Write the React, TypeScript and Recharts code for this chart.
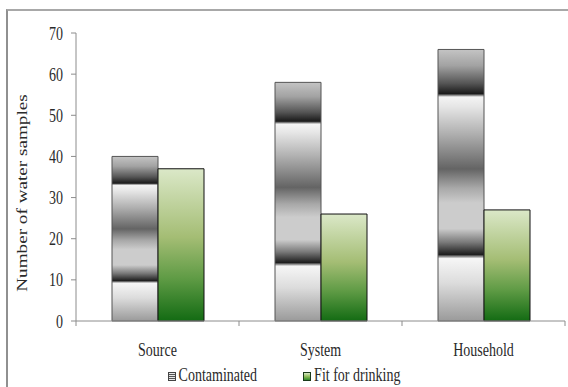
import React from 'react';
import { BarChart, Bar, XAxis, YAxis, Legend } from 'recharts';

const categories = ['Source', 'System', 'Household'];
const contaminated = [40, 58, 66];
const fitForDrinking = [37, 26, 27];
const yTicks = [0, 10, 20, 30, 40, 50, 60, 70];
const seriesNames = ['Contaminated', 'Fit for drinking'];
const yLabel = 'Number of water samples';

const data = categories.map((c, i) => ({
  category: c,
  contaminated: contaminated[i],
  fit: fitForDrinking[i],
}));

const FONT = "'Liberation Serif', 'Times New Roman', Times, serif";
const STRETCH = 1.37;
const TEXT_COLOR = '#2a2a2a';

const textStyle: React.CSSProperties = { fontFamily: FONT, fontSize: 14 };

const YTick = (props: any) => {
  const { x, y, payload } = props;
  return (
    <text
      transform={`translate(${x},${y}) scale(1,${STRETCH})`}
      x={0}
      y={0}
      dy="0.34em"
      textAnchor="end"
      style={textStyle}
      fill={TEXT_COLOR}
    >
      {payload.value}
    </text>
  );
};

const XTick = (props: any) => {
  const { x, y, payload, index, visibleTicksCount } = props;
  const half = payload && payload.offset ? payload.offset : 81.5;
  const last = index === (visibleTicksCount ?? 3) - 1;
  return (
    <g>
      <line x1={x - half} x2={x - half} y1={y} y2={y + 5} stroke="#8c8c8c" />
      {last && <line x1={x + half} x2={x + half} y1={y} y2={y + 5} stroke="#8c8c8c" />}
      <text
        transform={`translate(${x},${y + 28}) scale(1,${STRETCH})`}
        x={0}
        y={0}
        dy="0.34em"
        textAnchor="middle"
        style={textStyle}
        fill={TEXT_COLOR}
      >
        {payload.value}
      </text>
    </g>
  );
};

const YLabel = (props: any) => {
  const vb = props.viewBox || { x: 0, y: 33, width: 76, height: 288 };
  const cx = vb.x + 22;
  const cy = vb.y + vb.height / 2 + 16;
  return (
    <text
      transform={`translate(${cx},${cy}) scale(1,${STRETCH}) rotate(-90)`}
      x={0}
      y={0}
      dy="0.34em"
      textAnchor="middle"
      style={textStyle}
      fill={TEXT_COLOR}
    >
      {yLabel}
    </text>
  );
};

const renderLegend = () => {
  const text: React.CSSProperties = {
    display: 'inline-block',
    transform: `scaleY(${STRETCH})`,
    fontFamily: FONT,
    fontSize: 14,
    color: TEXT_COLOR,
    lineHeight: '18px',
  };
  const icon: React.CSSProperties = {
    display: 'inline-block',
    width: 8,
    height: 9,
    marginRight: 3,
    boxSizing: 'border-box',
  };
  return (
    <div
      style={{
        height: 18,
        width: 568,
        display: 'flex',
        justifyContent: 'center',
        alignItems: 'center',
        gap: 46,
      }}
    >
      <div style={{ display: 'flex', alignItems: 'center' }}>
        <span
          style={{
            ...icon,
            border: '1px solid #444',
            background:
              'repeating-linear-gradient(to bottom, #e8e8e8 0px, #e8e8e8 1px, #555 1px, #555 2px)',
          }}
        />
        <span style={text}>{seriesNames[0]}</span>
      </div>
      <div style={{ display: 'flex', alignItems: 'center' }}>
        <span
          style={{
            ...icon,
            border: '1px solid #1a3a1a',
            background: 'linear-gradient(to bottom, #d8e8c4, #8fbc5a, #2f8a2a)',
          }}
        />
        <span style={text}>{seriesNames[1]}</span>
      </div>
    </div>
  );
};

export default function App() {
  return (
    <div
      style={{
        position: 'absolute',
        left: 0,
        top: 0,
        width: 568,
        height: 387,
        overflow: 'hidden',
        background: '#fff',
      }}
    >
      <div
        style={{
          position: 'absolute',
          left: 6,
          top: 9,
          width: 700,
          height: 500,
          borderTop: '2px solid #a8a8a8',
          borderLeft: '2px solid #909090',
        }}
      />
      <div style={{ position: 'absolute', left: 0, top: 0 }}>
        <BarChart
          width={568}
          height={387}
          data={data}
          margin={{ top: 33, right: 3, left: 0, bottom: 2 }}
          barGap={0}
          barSize={46}
        >
          <defs>
            <linearGradient id="gradCont" x1="0" y1="0" x2="0" y2="1">
              <stop offset="0" stopColor="#c4c4c4" />
              <stop offset="0.06" stopColor="#a2a2a2" />
              <stop offset="0.125" stopColor="#555555" />
              <stop offset="0.163" stopColor="#1a1a1a" />
              <stop offset="0.175" stopColor="#f4f4f4" />
              <stop offset="0.21" stopColor="#e6e6e6" />
              <stop offset="0.31" stopColor="#b0b0b0" />
              <stop offset="0.44" stopColor="#646464" />
              <stop offset="0.51" stopColor="#a8a8a8" />
              <stop offset="0.565" stopColor="#cccccc" />
              <stop offset="0.66" stopColor="#cccccc" />
              <stop offset="0.71" stopColor="#7a7a7a" />
              <stop offset="0.755" stopColor="#1e1e1e" />
              <stop offset="0.77" stopColor="#f6f6f6" />
              <stop offset="0.86" stopColor="#dcdcdc" />
              <stop offset="1" stopColor="#9a9a9a" />
            </linearGradient>
            <linearGradient id="gradFit" x1="0" y1="0" x2="0" y2="1">
              <stop offset="0" stopColor="#dbe8c8" />
              <stop offset="0.45" stopColor="#a4bd74" />
              <stop offset="0.72" stopColor="#5f9b45" />
              <stop offset="1" stopColor="#136b13" />
            </linearGradient>
          </defs>
          <XAxis
            dataKey="category"
            height={46}
            stroke="#8c8c8c"
            tickLine={false}
            tickSize={0}
            tickMargin={0}
            tick={<XTick />}
            interval={0}
          />
          <YAxis
            width={76}
            domain={[0, 70]}
            ticks={yTicks}
            stroke="#8c8c8c"
            tickSize={5}
            tickMargin={8}
            tick={<YTick />}
            label={<YLabel />}
            interval={0}
          />
          <Legend verticalAlign="bottom" content={renderLegend} />
          <Bar
            dataKey="contaminated"
            name={seriesNames[0]}
            fill="url(#gradCont)"
            stroke="#555"
            strokeWidth={1}
            isAnimationActive={false}
          />
          <Bar
            dataKey="fit"
            name={seriesNames[1]}
            fill="url(#gradFit)"
            stroke="#111"
            strokeWidth={1}
            isAnimationActive={false}
          />
        </BarChart>
      </div>
    </div>
  );
}
